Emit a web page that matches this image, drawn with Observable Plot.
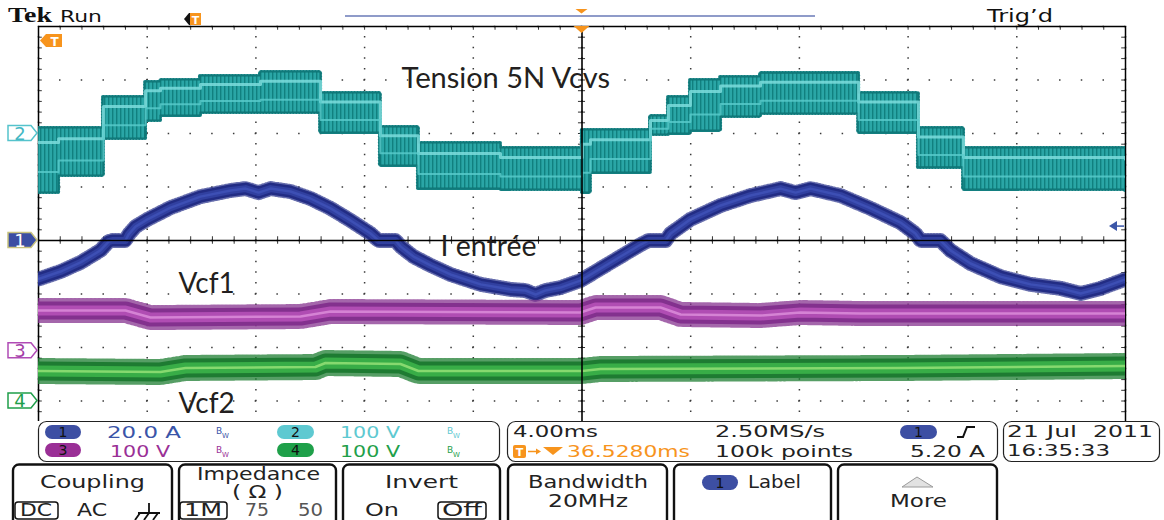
<!DOCTYPE html>
<html><head><meta charset="utf-8">
<script src="https://cdn.jsdelivr.net/npm/d3@7"></script>
<script src="https://cdn.jsdelivr.net/npm/@observablehq/plot@0.6"></script>
<style>
html,body{margin:0;padding:0;background:#fff;}
#wrap{position:relative;width:1164px;height:520px;overflow:hidden;}
#wrap svg{position:absolute;left:0;top:0;}
</style></head>
<body><div id="wrap"></div>
<script>
// ---------------- DATA ----------------
// time axis: 4 ms / division, 10 divisions on screen (0..40 ms)
const msPerDiv = 4;
// channel settings: volts (or amps) per division and ground-marker offset (divisions)
const chScale  = [20, 100, 100, 100];      // ch1 A/div, ch2..4 V/div
const chOffset = [0, 2.0, -2.06, -3.0];    // ground markers 1,2,3,4
const triggerLevelA = 5.20;

// Ch1 : I entrée (A)
const iTime = [0.00,0.81,1.55,2.28,2.58,2.72,3.20,3.31,3.57,4.01,4.86,5.96,7.07,7.62,8.10,8.54,9.27,10.01,10.75,11.48,12.22,12.51,13.14,13.32,13.80,14.43,15.16,16.27,17.37,17.92,18.29,18.65,19.21,19.94,20.68,21.42,22.16,22.45,23.08,23.26,23.99,25.10,26.20,27.31,27.86,28.41,29.51,30.62,31.72,32.27,32.46,33.19,33.56,34.30,35.40,36.51,37.61,38.35,39.08,39.96];
const iAmps = [-14.4,-11.6,-8.2,-3.7,-0.4,0,0,2.2,5.2,7.9,12.3,16.4,18.7,19.4,17.9,19.4,18.3,15.7,12.0,7.5,2.6,0,0,-2.2,-6.0,-9.3,-12.7,-16.4,-18.3,-18.7,-20.2,-18.7,-17.6,-15.0,-10.5,-6.0,-1.5,0,0,2.6,7.9,13.1,16.8,19.4,17.9,19.4,16.8,12.0,6.7,2.6,0,0,-3.7,-8.6,-13.5,-16.4,-17.9,-19.8,-17.9,-14.6];

// Ch2 : Tension 5N Vcvs (V) - upper / lower envelope of the multilevel trace
const vcvsTime = [0.00,0.74,2.39,3.94,4.49,5.96,8.17,10.38,12.58,13.98,17.00,20.01,20.31,22.52,23.18,23.99,25.10,26.57,30.18,32.38,34.04,40.00];
const vcvsHigh = [9.3,9.3,67.3,95.3,99.1,106.5,114.0,74.8,11.2,-18.7,-28.0,5.6,5.6,31.8,67.3,99.1,104.7,112.1,74.8,9.3,-28.0,-31.8];
const vcvsLow  = [-110.3,-78.5,-9.3,24.3,33.6,39.2,39.2,1.9,-59.8,-102.8,-104.7,-110.3,-72.9,-1.9,0,5.6,31.8,37.4,1.9,-63.5,-104.7,-106.5];

// Ch3 : Vcf1 (V)
const vcf1Time  = [0.00,3.20,4.12,9.64,10.75,19.94,20.50,22.89,23.63,26.57,28.04,30.25,40.00];
const vcf1Volts = [75.1,75.1,62.0,63.9,73.3,71.4,80.7,80.7,67.7,65.8,71.4,69.5,69.5];

// Ch4 : Vcf2 (V)
const vcf2Time  = [0.00,4.49,5.41,10.19,10.56,13.32,13.98,20.01,20.68,31.72,40.00];
const vcf2Volts = [56.1,54.2,61.7,63.5,71.0,69.2,56.1,56.1,59.8,61.7,65.4];

// ---------------- build tables (value -> screen divisions) ----------------
const toDiv = (v, ch) => v / chScale[ch] + chOffset[ch];
const iData    = iTime.map((t, i) => ({t, y: toDiv(iAmps[i], 0)}));
const vcvsData = vcvsTime.map((t, i) => ({t, hi: toDiv(vcvsHigh[i], 1), lo: toDiv(vcvsLow[i], 1)}));
const vcf1Data = vcf1Time.map((t, i) => ({t, y: toDiv(vcf1Volts[i], 2)}));
const vcf2Data = vcf2Time.map((t, i) => ({t, y: toDiv(vcf2Volts[i], 3)}));

const W = 1164, H = 520;
const majorX = d3.range(0, 10 * msPerDiv + 0.01, msPerDiv);
const majorY = d3.range(-4, 4.01, 1);
const minorX = d3.range(0, 40.01, msPerDiv / 5);
const minorY = d3.range(-4, 4.01, 0.2);
const dotStyleV = {stroke: "#3a3a3a", strokeWidth: 1.5, strokeDasharray: "1.5,9.2", strokeDashoffset: 0.75};
const dotStyleH = {stroke: "#3a3a3a", strokeWidth: 1.5, strokeDasharray: "1.5,20.24", strokeDashoffset: 0.75};
const annFont = "Lato, 'Open Sans', sans-serif";

const plot = Plot.plot({
  width: W, height: H,
  marginTop: 26, marginRight: 39, marginBottom: 66, marginLeft: 38,
  x: {domain: [0, 40], axis: null},
  y: {domain: [-4, 4], axis: null},
  style: {background: "transparent"},
  marks: [
    // graticule
    Plot.ruleX(majorX, dotStyleV),
    Plot.ruleY(majorY, dotStyleH),
    Plot.ruleY(minorY, {y: d => d, x1: 0, x2: 0.14, stroke: "#333", strokeWidth: 1}),
    Plot.ruleY(minorY, {y: d => d, x1: 39.86, x2: 40, stroke: "#333", strokeWidth: 1}),
    Plot.ruleX(minorX, {x: d => d, y1: 4, y2: 3.93, stroke: "#333", strokeWidth: 1}),
    Plot.ruleY(minorY, {y: d => d, x1: 19.87, x2: 20.13, stroke: "#333", strokeWidth: 1}),
    Plot.ruleX(minorX, {x: d => d, y1: -0.07, y2: 0.07, stroke: "#333", strokeWidth: 1}),
    Plot.frame({stroke: "#000", strokeWidth: 1.5}),

    // Ch2 Vcvs (cyan)
    Plot.areaY(vcvsData, {x: "t", y1: "lo", y2: "hi", curve: "step-after", fill: "none", stroke: "#137f80", strokeWidth: 4, strokeDasharray: "1,2", clip: true}),
    Plot.areaY(vcvsData, {x: "t", y1: "lo", y2: "hi", curve: "step-after", fill: "url(#vcvsStripes)", stroke: "#0e7575", strokeWidth: 1.2, clip: true}),
    Plot.line(vcvsData, {x: "t", y: d => d.hi - 0.22 * (d.hi - d.lo), curve: "step-after", stroke: "#7cdcdc", strokeWidth: 3, strokeOpacity: 0.85, clip: true}),
    Plot.line(vcvsData, {x: "t", y: d => d.hi - 0.68 * (d.hi - d.lo), curve: "step-after", stroke: "#5acccc", strokeWidth: 2, strokeOpacity: 0.8, clip: true}),

    // Ch1 I entrée (blue)
    Plot.line(iData, {x: "t", y: "y", stroke: "#26308a", strokeWidth: 15, strokeDasharray: "1,2", strokeOpacity: 0.7, clip: true}),
    Plot.line(iData, {x: "t", y: "y", stroke: "#222c84", strokeWidth: 12, clip: true}),
    Plot.line(iData, {x: "t", y: "y", stroke: "#3140a0", strokeWidth: 7, clip: true}),
    Plot.line(iData, {x: "t", y: "y", stroke: "#3d4fb4", strokeWidth: 2.5, clip: true}),

    // Ch3 Vcf1 (purple)
    Plot.line(vcf1Data, {x: "t", y: "y", stroke: "#86338f", strokeWidth: 25, strokeDasharray: "1,3", strokeOpacity: 0.75, clip: true}),
    Plot.line(vcf1Data, {x: "t", y: "y", stroke: "#83318e", strokeWidth: 18, clip: true}),
    Plot.line(vcf1Data, {x: "t", y: "y", stroke: "#b04db3", strokeWidth: 10, clip: true}),
    Plot.line(vcf1Data, {x: "t", y: "y", stroke: "#d583d4", strokeWidth: 2.5, clip: true}),

    // Ch4 Vcf2 (green)
    Plot.line(vcf2Data, {x: "t", y: "y", stroke: "#1d7d31", strokeWidth: 26, strokeDasharray: "1,3", strokeOpacity: 0.75, clip: true}),
    Plot.line(vcf2Data, {x: "t", y: "y", stroke: "#1e7b32", strokeWidth: 19, clip: true}),
    Plot.line(vcf2Data, {x: "t", y: "y", stroke: "#38ad47", strokeWidth: 11, clip: true}),
    Plot.line(vcf2Data, {x: "t", y: "y", stroke: "#86d96f", strokeWidth: 2.5, clip: true}),

    // centre cross-hair lines drawn over the traces
    Plot.ruleX([20], {stroke: "#000", strokeWidth: 1.6}),
    Plot.ruleY([0], {stroke: "#000", strokeWidth: 1.6}),

    // annotations
    Plot.text(["Tension 5N Vcvs"], {x: 13.36, y: 3.03, text: d => d, textAnchor: "start", fontSize: 29, fontFamily: annFont, fill: "#231f20"}),
    Plot.text(["I entrée"], {x: 14.79, y: -0.11, text: d => d, textAnchor: "start", fontSize: 28.5, fontFamily: annFont, fill: "#231f20"}),
    Plot.text(["Vcf1"], {x: 5.15, y: -0.82, text: d => d, textAnchor: "start", fontSize: 28, fontFamily: annFont, fill: "#231f20"}),
    Plot.text(["Vcf2"], {x: 5.15, y: -3.05, text: d => d, textAnchor: "start", fontSize: 28, fontFamily: annFont, fill: "#231f20"})
  ]
});

// stripe texture for the multilevel Vcvs trace
const defs = d3.select(plot).insert("defs", ":first-child");
const pat = defs.append("pattern").attr("id", "vcvsStripes").attr("patternUnits", "userSpaceOnUse").attr("width", 4).attr("height", 8);
pat.append("rect").attr("width", 4).attr("height", 8).attr("fill", "#2aa6a6");
pat.append("rect").attr("width", 1.4).attr("height", 8).attr("fill", "#11807f");

document.getElementById("wrap").appendChild(plot);

// ---------------- oscilloscope chrome (overlay) ----------------
const ys = plot.scale("y"), xs = plot.scale("x");
const F = "'DejaVu Sans', sans-serif";
const ov = d3.select("#wrap").append("svg").attr("width", W).attr("height", H)
  .attr("font-family", F);

function txt(x, y, s, o = {}) {
  const t = ov.append("text").attr("x", x).attr("y", y)
    .attr("font-size", o.size || 15).attr("fill", o.fill || "#222")
    .attr("font-weight", o.weight || 400)
    .attr("text-anchor", o.anchor || "start");
  if (o.family) t.attr("font-family", o.family);
  if (o.len) t.attr("textLength", o.len).attr("lengthAdjust", "spacingAndGlyphs");
  t.text(s);
  return t;
}
function oval(x, y, w, h, fill, label) {
  ov.append("rect").attr("x", x).attr("y", y).attr("width", w).attr("height", h).attr("rx", h / 2).attr("fill", fill);
  txt(x + w / 2, y + h - 2, label, {size: 14, anchor: "middle", fill: "#111"});
}
function bw(x, y, fill) {
  txt(x, y - 4, "B", {size: 9, fill});
  txt(x + 6, y, "W", {size: 7, fill});
}

// white area under the graticule
ov.append("rect").attr("x", 0).attr("y", 421).attr("width", W).attr("height", 99).attr("fill", "#fff");

// top line
txt(8, 22, "Tek", {size: 21, weight: 700, family: "'Liberation Serif', serif", len: 44, fill: "#111"});
txt(60, 22, "Run", {size: 16, len: 42, fill: "#111"});
txt(987, 22, "Trig\u2019d", {size: 17, len: 66, fill: "#111"});
ov.append("line").attr("x1", 345).attr("x2", 815).attr("y1", 16).attr("y2", 16).attr("stroke", "#8f9bc9").attr("stroke-width", 2);
const cx = xs.apply(20);
ov.append("path").attr("d", `M${cx - 6},9H${cx + 6}L${cx},13.5Z`).attr("fill", "#f7941d");
ov.append("path").attr("d", `M${cx - 8},26H${cx + 8}L${cx},33Z`).attr("fill", "#f7941d");
// small T marker (top)
ov.append("path").attr("d", "M184,19L189,13H192V25H189Z").attr("fill", "#111");
ov.append("rect").attr("x", 190).attr("y", 13).attr("width", 11).attr("height", 12).attr("fill", "#f7941d");
txt(195.5, 23.5, "T", {size: 11, weight: 700, anchor: "middle", fill: "#fff"});
// T marker inside graticule
ov.append("path").attr("d", "M40,40.5L46,34H62V47H46Z").attr("fill", "#f7941d");
txt(54.5, 45.5, "T", {size: 12, weight: 700, anchor: "middle", fill: "#fff"});

// channel ground markers
function marker(ch, label, fill, stroke, textFill) {
  const cy = ys.apply(chOffset[ch]);
  ov.append("path").attr("d", `M8,${cy - 7.5}H31L37,${cy}L31,${cy + 7.5}H8Z`)
    .attr("fill", fill).attr("stroke", stroke).attr("stroke-width", 1.5);
  txt(20, cy + 6.5, label, {size: 18, anchor: "middle", fill: textFill});
}
marker(1, "2", "#fff", "#55c3cc", "#45b8c4");
marker(0, "1", "#3b4ea3", "#c8c27e", "#fff");
marker(2, "3", "#fff", "#b04bb5", "#a43fa8");
marker(3, "4", "#fff", "#1f9e4a", "#1f9e4a");
// trigger level arrow (right side)
const ty = ys.apply(triggerLevelA / chScale[0] + chOffset[0]);
ov.append("path").attr("d", `M1109,${ty}L1117,${ty - 5}V${ty + 5}Z`).attr("fill", "#3b56a8");
ov.append("line").attr("x1", 1116).attr("x2", 1124).attr("y1", ty).attr("y2", ty).attr("stroke", "#3b56a8").attr("stroke-width", 1.5);

// readout panels
function panel(x, w) {
  ov.append("rect").attr("x", x).attr("y", 421.5).attr("width", w).attr("height", 40).attr("rx", 8)
    .attr("fill", "#fff").attr("stroke", "#222").attr("stroke-width", 1.2);
}
panel(38.5, 461); panel(507.5, 490); panel(1003.5, 156);

const cBlue = "#3a55a8", cCyan = "#5ec9d1", cPurp = "#9a2f96", cGreen = "#1fa04a", cOrange = "#f7941d";
// panel A
oval(45, 425, 36, 14, "#3d4fa3", "1");
txt(107, 438, "20.0 A", {len: 74, fill: cBlue});
bw(216, 438, cBlue);
oval(277, 425, 37, 14, cCyan, "2");
txt(340, 438, "100 V", {len: 60, fill: cCyan});
bw(447, 438, cCyan);
oval(45, 443, 36, 14, cPurp, "3");
txt(110, 457, "100 V", {len: 60, fill: cPurp});
bw(216, 457, cPurp);
oval(277, 443, 37, 14, cGreen, "4");
txt(340, 457, "100 V", {len: 60, fill: cGreen});
bw(447, 457, cGreen);
// panel B
txt(513, 437, "4.00ms", {len: 85});
txt(715, 437, "2.50MS/s", {len: 110});
oval(900, 425, 37, 14, "#3d4fa3", "1");
ov.append("path").attr("d", "M957,437H963L967,427H975").attr("fill", "none").attr("stroke", "#111").attr("stroke-width", 2);
ov.append("rect").attr("x", 513).attr("y", 445).attr("width", 13).attr("height", 13).attr("rx", 2).attr("fill", cOrange);
txt(519.5, 456, "T", {size: 11, weight: 700, anchor: "middle", fill: "#fff"});
ov.append("path").attr("d", "M528,451.5H538").attr("stroke", cOrange).attr("stroke-width", 1.5);
ov.append("path").attr("d", "M536,448.5L541,451.5L536,454.5Z").attr("fill", cOrange);
ov.append("path").attr("d", "M543,447H563L553,455Z").attr("fill", cOrange);
txt(567, 457, "36.5280ms", {len: 123, fill: cOrange});
txt(715, 457, "100k points", {len: 138});
txt(910, 457, "5.20 A", {len: 75});
// panel C
txt(1007, 437, "21 Jul", {len: 70});
txt(1093, 437, "2011", {len: 60});
txt(1007, 456, "16:35:33", {len: 103});

// menu buttons
function button(x, w) {
  ov.append("rect").attr("x", x).attr("y", 464.5).attr("width", w).attr("height", 70).attr("rx", 6)
    .attr("fill", "#fff").attr("stroke", "#111").attr("stroke-width", 2.4);
}
[[13, 159], [179, 157], [343, 157], [508, 159], [674, 157], [838, 159]].forEach(([x, w]) => button(x, w));
function boxed(x, w) {
  ov.append("rect").attr("x", x).attr("y", 502).attr("width", w).attr("height", 17).attr("rx", 3)
    .attr("fill", "none").attr("stroke", "#111").attr("stroke-width", 1.5);
}
txt(40, 488, "Coupling", {size: 17, len: 105});
boxed(15, 43); txt(20, 516, "DC", {size: 17, len: 32});
txt(77, 516, "AC", {size: 17, len: 30});
ov.append("path").attr("d", "M149,503V513M138,513H160M140,513L135,520M149,513L144,520M158,513L153,520")
  .attr("stroke", "#111").attr("stroke-width", 1.8).attr("fill", "none");
txt(197, 480, "Impedance", {size: 17, len: 123});
txt(232, 498, "( \u03A9 )", {size: 17, len: 51});
boxed(180, 47); txt(184, 516, "1M", {size: 17, len: 38});
txt(245, 516, "75", {size: 17, len: 24, fill: "#555"});
txt(298, 516, "50", {size: 17, len: 25, fill: "#555"});
txt(385, 488, "Invert", {size: 17, len: 73});
txt(365, 516, "On", {size: 17, len: 34});
boxed(438, 48); txt(442, 516, "Off", {size: 17, len: 40});
txt(528, 488, "Bandwidth", {size: 17, len: 120});
txt(548, 507, "20MHz", {size: 17, len: 80});
oval(702, 475, 36, 15, "#3d4fa3", "1");
txt(748, 488, "Label", {size: 17, len: 53});
ov.append("path").attr("d", "M902,487L917,477L933,487Z").attr("fill", "#e2e2e2").attr("stroke", "#9a9a9a").attr("stroke-width", 1);
txt(890, 507, "More", {size: 17, len: 57});
</script>
</body></html>
